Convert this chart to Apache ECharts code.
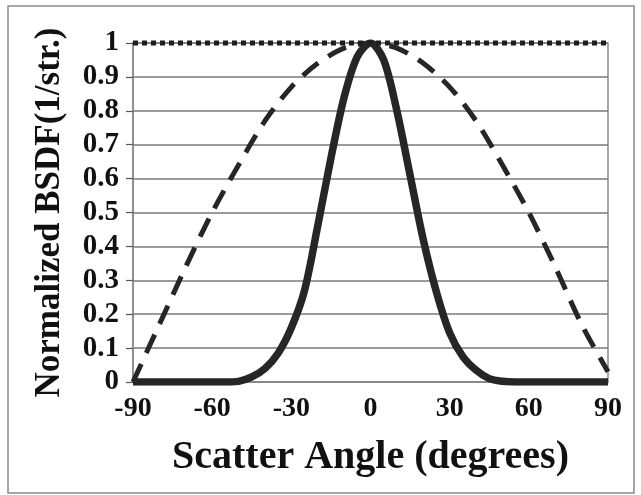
<!DOCTYPE html>
<html>
<head>
<meta charset="utf-8">
<script src="https://cdn.jsdelivr.net/npm/echarts@6/dist/echarts.min.js"></script>
<style>html,body{margin:0;padding:0;background:#fff;}#chart{width:641px;height:495px;}</style>
</head>
<body>
<div id="chart"></div>
<script>
// Scatter angles (degrees) for the narrow (solid) BSDF curve
var solidAngles = [-90,-85,-80,-75,-70,-65,-60,-55,-50,-45,-40,-35,-30,-25,-20,-15,-10,-5,0,5,10,15,20,25,30,35,40,45,50,55,60,65,70,75,80,85,90];
var solidValues = [0,0,0,0,0,0,0,0,0.002,0.015,0.04,0.085,0.16,0.27,0.46,0.66,0.84,0.96,1.0,0.95,0.8,0.61,0.42,0.265,0.145,0.075,0.035,0.01,0.002,0,0,0,0,0,0,0,0];
// Wide (dashed) BSDF curve
var dashedAngles = [-90,-80,-70,-60,-50,-40,-30,-20,-10,0,10,20,30,40,50,60,70,80,90];
var dashedValues = [0,0.17,0.34,0.5,0.64,0.77,0.87,0.94,0.985,1.0,0.985,0.94,0.87,0.77,0.64,0.5,0.34,0.17,0.03];
// Dotted reference line at 1
var refAngles = [-90, 90];
var refValues = [1, 1];
// Axis settings
var xTicks = [-90,-60,-30,0,30,60,90];
var yTicks = [0,0.1,0.2,0.3,0.4,0.5,0.6,0.7,0.8,0.9,1];
var xTitle = 'Scatter Angle (degrees)';
var yTitle = 'Normalized BSDF(1/str.)';

function pairs(xs, ys){ return xs.map(function(x,i){ return [x, ys[i]]; }); }

var font = 'Liberation Serif';
var chart = echarts.init(document.getElementById('chart'), null, {renderer:'canvas'});
chart.setOption({
  animation: false,
  backgroundColor: '#ffffff',
  graphic: [{
    type: 'rect', silent: true, z: -10,
    shape: {x: 8, y: 6, width: 626, height: 487},
    style: {fill: 'none', stroke: '#8a8a8a', lineWidth: 1.5}
  }],
  grid: {left: 133, right: 33, top: 43, bottom: 113, show: true, borderColor: '#8a8a8a', borderWidth: 1.5, backgroundColor: 'transparent'},
  xAxis: {
    type: 'value', min: xTicks[0], max: xTicks[xTicks.length-1], interval: 30,
    name: xTitle, nameLocation: 'middle', nameGap: 56,
    nameTextStyle: {fontFamily: font, fontWeight: 'bold', fontSize: 40, color: '#111'},
    axisLine: {show: true, onZero: false, lineStyle: {color: '#8a8a8a', width: 1.5}},
    axisTick: {show: false},
    splitLine: {show: false},
    axisLabel: {fontFamily: font, fontWeight: 'bold', fontSize: 28, color: '#111', margin: 13,
      formatter: function(v){ return String(v); }}
  },
  yAxis: {
    type: 'value', min: yTicks[0], max: yTicks[yTicks.length-1], interval: 0.1,
    name: yTitle, nameLocation: 'middle', nameGap: 66, nameRotate: 90,
    nameTextStyle: {fontFamily: font, fontWeight: 'bold', fontSize: 35, color: '#111'},
    axisLine: {show: true, onZero: false, lineStyle: {color: '#8a8a8a', width: 1.5}},
    axisTick: {show: true, length: 7, lineStyle: {color: '#555', width: 1.2}},
    splitLine: {show: true, lineStyle: {color: '#7a7a7a', width: 1.5}},
    axisLabel: {fontFamily: font, fontWeight: 'bold', fontSize: 29, color: '#111', margin: 14,
      formatter: function(v){ return String(Math.round(v*10)/10); }}
  },
  series: [
    {
      name: 'reference', type: 'line', data: pairs(refAngles, refValues), symbol: 'none', z: 6, clip: false,
      lineStyle: {color: '#1e1e1e', width: 5, type: [5, 4], cap: 'butt'}
    },
    {
      name: 'wide', type: 'line', data: pairs(dashedAngles, dashedValues), symbol: 'none', smooth: 0.3, z: 4,
      lineStyle: {color: '#262626', width: 5, type: [20, 12], cap: 'butt'}
    },
    {
      name: 'narrow', type: 'line', data: pairs(solidAngles, solidValues), symbol: 'none', smooth: 0.3, z: 5,
      lineStyle: {color: '#262626', width: 7.5, cap: 'butt', join: 'round'}
    }
  ]
});
</script>
</body>
</html>
